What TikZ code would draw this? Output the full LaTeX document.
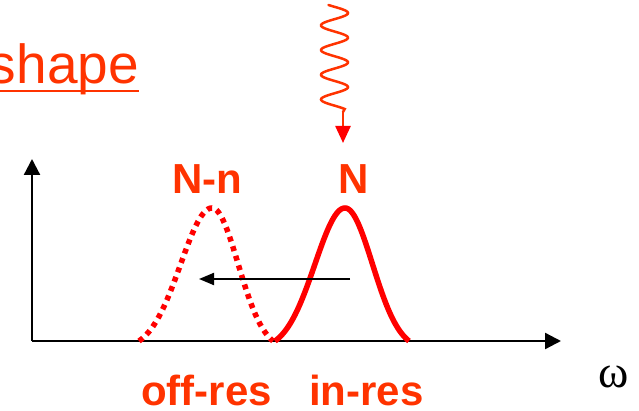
\documentclass[tikz,border=0pt]{standalone}
\usepackage{fontspec}
\setmainfont{Liberation Sans}
\newfontfamily\omegafont{Liberation Serif}
\usetikzlibrary{arrows.meta}
\definecolor{labelred}{RGB}{255,51,0}
\definecolor{curvered}{RGB}{255,0,0}
\tikzset{
  axisline/.style={line width=2.3pt,-{Triangle[length=16pt,width=16pt]}},
  shiftarrow/.style={line width=2pt,-{Triangle[length=15pt,width=12pt]}},
  peakline/.style={curvered,line width=5.5pt,line join=round},
  dottedpeak/.style={curvered,line width=5.5pt,dash pattern=on 5pt off 5pt},
  boldlabel/.style={labelred,inner sep=0pt,font=\fontsize{42}{48}\selectfont\bfseries},
  photon/.style={labelred,line width=2.5pt,line cap=round},
}
\begin{document}
\begin{tikzpicture}[x=1pt,y=-1pt]
\useasboundingbox (0,0) rectangle (639,411);
% title
\node[labelred,inner sep=0pt,anchor=base east,font=\fontsize{55}{60}\selectfont] (title) at (139,84) {shape};
\coordinate (ulA) at (0,91);
\coordinate (ulB) at (139,91);
\draw[labelred,line width=2.6pt] (ulA) -- (ulB);
% axes
\coordinate (origin) at (32,341);
\coordinate (ytip) at (32,159);
\coordinate (xtip) at (561,341);
\draw[axisline] (origin) -- (ytip);
\draw[axisline] (origin) -- (xtip);
% shifted (dotted) line
\draw[dottedpeak] plot[domain=-73:0,samples=50] ({212+\x},{341-(142.4*exp(-2.72*(\x/73)*(\x/73))-9.4)})
  -- plot[domain=0:61,samples=50] ({212+\x},{341-(142.4*exp(-2.72*(\x/61)*(\x/61))-9.4)});
% resonant (solid) line
\draw[peakline] plot[domain=-70:0,samples=50] ({345+\x},{341-(142.4*exp(-2.72*(\x/70)*(\x/70))-9.4)})
  -- plot[domain=0:64,samples=50] ({345+\x},{341-(142.4*exp(-2.72*(\x/64)*(\x/64))-9.4)});
% shift arrow
\coordinate (shiftstart) at (350,279);
\coordinate (shiftend) at (199,279);
\draw[shiftarrow] (shiftstart) -- (shiftend);
% photon
\coordinate (wavebottom) at (343,112);
\coordinate (photontip) at (343,143);
\draw[photon] plot[domain=5:109,samples=120] ({334.5+13.5*cos(14.575*(\x-13))},{\x}) -- (wavebottom);
\draw[labelred,line width=2.5pt,-{Triangle[length=17pt,width=15pt,color=curvered]}] (wavebottom) -- (photontip);
% labels
\node[boldlabel,anchor=base] (Nn) at (207,194) {N-n};
\node[boldlabel,anchor=base] (N) at (354,194) {N};
\node[boldlabel,anchor=base west] (offres) at (141,405) {off-res};
\node[boldlabel,anchor=base west] (inres) at (309,405) {in-res};
\node[inner sep=0pt,anchor=base,font=\omegafont\fontsize{46}{50}\selectfont] (omega) at (613.5,387) {ω};
\end{tikzpicture}
\end{document}
